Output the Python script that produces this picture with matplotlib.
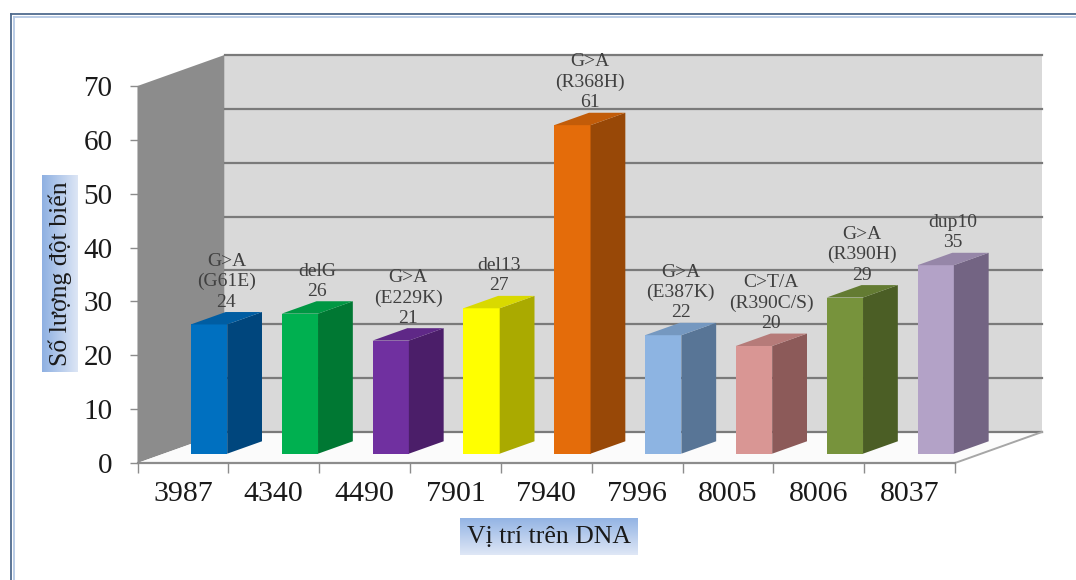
import matplotlib
matplotlib.use("Agg")
import matplotlib.pyplot as plt
import numpy as np
from matplotlib.colors import LinearSegmentedColormap, to_rgb
from matplotlib.lines import Line2D
from matplotlib.patches import Polygon


POSITIONS = ["3987", "4340", "4490", "7901", "7940", "7996", "8005", "8006", "8037"]
COUNTS = [24, 26, 21, 27, 61, 22, 20, 29, 35]
MUTATIONS = [
    "G>A\n(G61E)",
    "delG",
    "G>A\n(E229K)",
    "del13",
    "G>A\n(R368H)",
    "G>A\n(E387K)",
    "C>T/A\n(R390C/S)",
    "G>A\n(R390H)",
    "dup10",
]

FRONT_COLORS = ["#0070c0", "#00b050", "#7030a0", "#ffff00", "#e46c0a",
                "#8db4e2", "#d99694", "#77933c", "#b3a2c7"]
SIDE_COLORS = ["#00467d", "#007833", "#4b1e69", "#aaaa00", "#984807",
               "#587596", "#8c5a59", "#4b5e25", "#736483"]

Y_MAX = 70
Y_STEP = 10

# oblique projection of the depth axis (data units per unit of depth)
DEPTH_DX = 0.958
DEPTH_DY = 5.76
BAR_W = 0.4
BAR_D0, BAR_D1 = 0.3, 0.7

W, H = 1076, 580


def proj(x, y, d):
    return (x + d * DEPTH_DX, y + d * DEPTH_DY)


def blend(c1, c2, t):
    a, b = np.array(to_rgb(c1)), np.array(to_rgb(c2))
    return tuple(a * (1 - t) + b * t)


def face(ax, pts, color, z, **kw):
    ax.add_patch(Polygon(pts, closed=True, facecolor=color, edgecolor="none",
                         zorder=z, clip_on=False, **kw))


def gradient_box(fig, rect, c_start, c_end, vertical):
    bax = fig.add_axes(rect)
    cmap = LinearSegmentedColormap.from_list("box", [c_start, c_end])
    grad = np.linspace(0, 1, 256)
    grad = grad.reshape(-1, 1) if vertical else grad.reshape(1, -1)
    bax.imshow(grad, cmap=cmap, aspect="auto", extent=(0, 1, 0, 1), origin="upper")
    bax.set_axis_off()
    return bax


plt.rcParams["font.family"] = ["Liberation Serif", "DejaVu Serif"]
fig = plt.figure(figsize=(W / 100, H / 100), dpi=100)
fig.patch.set_facecolor("white")

n = len(POSITIONS)
ax = fig.add_axes([137.5 / W, (H - 463) / H, (955 - 137.5) / W, (463 - 86) / H])
ax.set_xlim(0, n)
ax.set_ylim(0, Y_MAX)
ax.patch.set_visible(False)

# walls and floor
face(ax, [proj(0, 0, 0), proj(0, 0, 1), proj(0, Y_MAX, 1), proj(0, Y_MAX, 0)], "#8c8c8c", 1)
face(ax, [proj(0, 0, 1), proj(n, 0, 1), proj(n, Y_MAX, 1), proj(0, Y_MAX, 1)], "#d9d9d9", 1)
face(ax, [proj(0, 0, 0), proj(n, 0, 0), proj(n, 0, 1), proj(0, 0, 1)], "#fbfbfb", 2)

grid_color = "#7a7a7a"
for yv in range(0, Y_MAX + 1, Y_STEP):
    (x0, y0), (x1, y1) = proj(0, yv, 1), proj(n, yv, 1)
    ax.plot([x0, x1], [y0, y1], color=grid_color, lw=1.6, zorder=3, clip_on=False)
(x0, y0), (x1, y1) = proj(n, 0, 0), proj(n, 0, 1)
ax.plot([x0, x1], [y0, y1], color="#a6a6a6", lw=1.4, zorder=3, clip_on=False)

# bars: front, side and top faces
for i, (v, fc, sc) in enumerate(zip(COUNTS, FRONT_COLORS, SIDE_COLORS)):
    xl = i + 0.5 - BAR_W / 2
    xr = i + 0.5 + BAR_W / 2
    tc = blend(fc, sc, 0.45)
    face(ax, [proj(xl, 0, BAR_D0), proj(xr, 0, BAR_D0), proj(xr, v, BAR_D0), proj(xl, v, BAR_D0)], fc, 5)
    face(ax, [proj(xr, 0, BAR_D0), proj(xr, 0, BAR_D1), proj(xr, v, BAR_D1), proj(xr, v, BAR_D0)], sc, 5)
    face(ax, [proj(xl, v, BAR_D0), proj(xr, v, BAR_D0), proj(xr, v, BAR_D1), proj(xl, v, BAR_D1)], tc, 5)

    mid_x = i + 0.5 + (BAR_D0 + BAR_D1) / 2 * DEPTH_DX
    top_y = v + BAR_D1 * DEPTH_DY
    ax.annotate(f"{MUTATIONS[i]}\n{v}", xy=(mid_x, top_y), xytext=(0, 1),
                textcoords="offset points", ha="center", va="bottom",
                fontsize=14, color="#404040", linespacing=1.25,
                annotation_clip=False, zorder=6)

# axes, ticks and tick labels
for side in ("top", "right"):
    ax.spines[side].set_visible(False)
ax.spines["left"].set_color("#8c8c8c")
ax.spines["bottom"].set_color("#8c8c8c")
ax.spines["bottom"].set_linewidth(1.6)
ax.spines["bottom"].set_zorder(4)

ax.set_yticks(range(0, Y_MAX + 1, Y_STEP))
ax.tick_params(axis="y", length=6, width=1, color="#8c8c8c", pad=12,
               labelsize=21, labelcolor="#1a1a1a")
ax.set_xticks(range(n + 1))
ax.set_xticklabels([])
ax.set_xticks(np.arange(n) + 0.5, minor=True)
ax.set_xticklabels(POSITIONS, minor=True)
ax.tick_params(axis="x", which="major", length=7, width=1, color="#8c8c8c")
ax.tick_params(axis="x", which="minor", length=0, pad=13,
               labelsize=21.5, labelcolor="#1a1a1a")

# axis titles in gradient boxes
ybox = gradient_box(fig, [42 / W, (H - 372) / H, 36 / W, 197 / H], "#8eb0e2", "#dde6f5", False)
ybox.text(0.5, 0.5, "Số lượng đột biến", rotation=90, ha="center", va="center",
          fontsize=18.5, color="#1a1a1a", transform=ybox.transAxes)
xbox = gradient_box(fig, [460 / W, (H - 555) / H, 178 / W, 37 / H], "#93b4e4", "#dfe7f6", True)
xbox.text(0.5, 0.48, "Vị trí trên DNA", ha="center", va="center",
          fontsize=18.5, color="#1a1a1a", transform=xbox.transAxes)

# chart frame
for offset, color in ((11, "#4f6b8f"), (13.5, "#b4c8e4")):
    fig.add_artist(Line2D([offset / W, offset / W], [0, 1 - (offset + 3) / H],
                          transform=fig.transFigure, color=color, lw=1.3))
    fig.add_artist(Line2D([offset / W, 1], [1 - (offset + 3) / H, 1 - (offset + 3) / H],
                          transform=fig.transFigure, color=color, lw=1.3))

fig.savefig("out.png", dpi=100)
